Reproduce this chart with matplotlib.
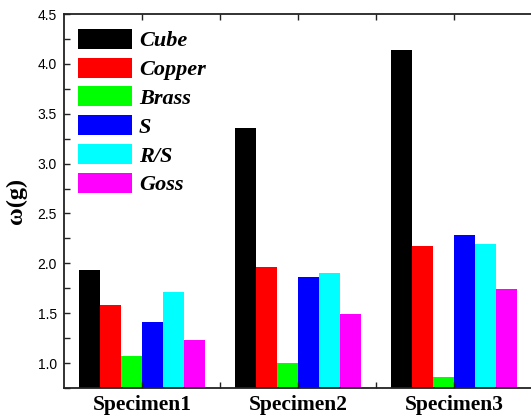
import matplotlib
matplotlib.use("Agg")
import matplotlib.pyplot as plt
from matplotlib.ticker import MultipleLocator, FixedLocator
from matplotlib.patches import Patch
import numpy as np

specimens = ["Specimen1", "Specimen2", "Specimen3"]
components = ["Cube", "Copper", "Brass", "S", "R/S", "Goss"]
colors = ["#000000", "#ff0000", "#00ff00", "#0000ff", "#00ffff", "#ff00ff"]

cube = [1.93, 3.36, 4.14]
copper = [1.58, 1.96, 2.17]
brass = [1.07, 1.00, 0.86]
s_comp = [1.41, 1.86, 2.28]
rs = [1.71, 1.90, 2.19]
goss = [1.23, 1.49, 1.74]
series = [cube, copper, brass, s_comp, rs, goss]

fig = plt.figure(figsize=(5.31, 4.17), dpi=100)
ax = fig.add_axes([64 / 531, 29 / 417, 468 / 531, 374 / 417])

x = np.arange(1, len(specimens) + 1)
w = 0.135
for i, (vals, c) in enumerate(zip(series, colors)):
    ax.bar(x + (i - 2.5) * w, vals, width=w, color=c, linewidth=0)

ax.set_xlim(0.5, 3.5)
ax.set_ylim(0.75, 4.5)
ax.yaxis.set_major_locator(MultipleLocator(0.5))
ax.yaxis.set_minor_locator(MultipleLocator(0.25))
ax.set_xticks(x)
ax.set_xticklabels(specimens, family="Liberation Serif", weight="bold", fontsize=15.5)
ax.xaxis.set_minor_locator(FixedLocator([1.5, 2.5]))

ax.tick_params(axis="both", which="both", direction="in", top=True, right=False,
               width=1.0, color="#222222")
ax.tick_params(axis="y", which="both", length=4.5, pad=5)
ax.tick_params(axis="x", which="both", length=4, pad=5)
for lab in ax.get_yticklabels():
    lab.set_family("Liberation Sans")
    lab.set_fontsize(10)

for sp in ax.spines.values():
    sp.set_linewidth(1.3)
    sp.set_color("#222222")
ax.spines["right"].set_visible(False)

ax.set_ylabel("ω(g)", family="Liberation Serif", weight="bold", fontsize=17.5)
ax.yaxis.set_label_coords(-0.078, 0.5)

handles = [Patch(facecolor=c, edgecolor="none") for c in colors]
leg = ax.legend(handles, components, loc="upper left", bbox_to_anchor=(0.02, 0.972),
                frameon=False, borderaxespad=0, borderpad=0.2,
                handlelength=2.45, handleheight=1.0, handletextpad=0.3,
                labelspacing=0.28,
                prop={"family": "Liberation Serif", "weight": "bold",
                      "style": "italic", "size": 16})

fig.savefig("out.png", dpi=100)
